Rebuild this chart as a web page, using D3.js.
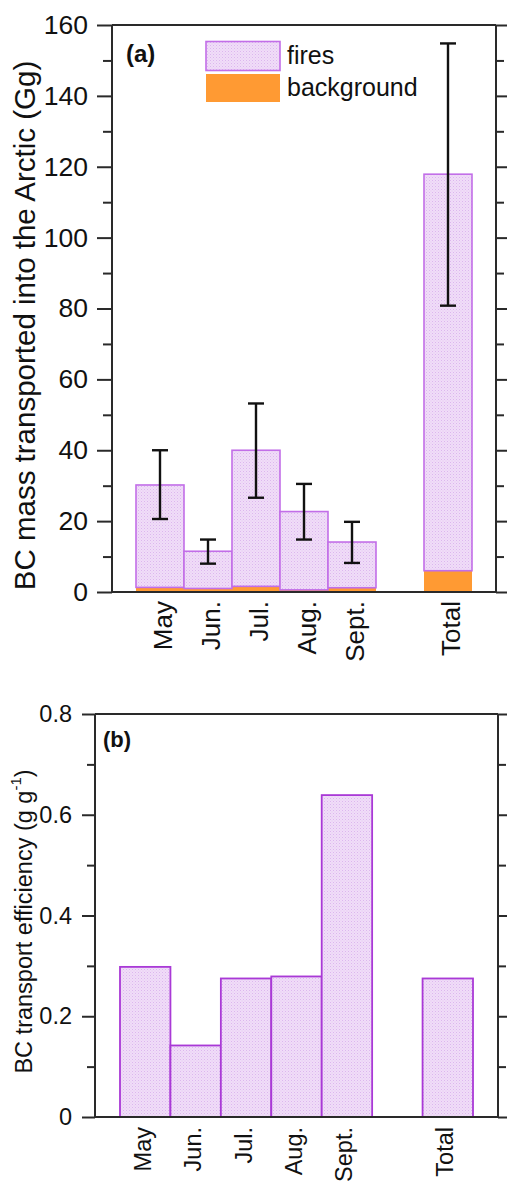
<!DOCTYPE html>
<html>
<head>
<meta charset="utf-8">
<script src="https://cdn.jsdelivr.net/npm/d3@7"></script>
<style>
  html, body { margin: 0; padding: 0; background: #fff; }
  svg { display: block; font-family: "Liberation Sans", Arial, Helvetica, sans-serif; }
</style>
</head>
<body>
<svg id="chart" width="507" height="1181"></svg>
<script>
// ---------- DATA ----------
const categories = ["May", "Jun.", "Jul.", "Aug.", "Sept.", "", "Total"];
const backgroundMass = [1.3, 1.0, 1.6, 0.6, 1.2, 0, 6.0];      // Gg
const firesMass      = [28.9, 10.5, 38.4, 22.1, 12.9, 0, 111.9]; // Gg (stacked on background)
const errLow  = [20.6, 8.0, 26.6, 14.8, 8.2, null, 80.8];
const errHigh = [40.0, 14.8, 53.2, 30.5, 19.8, null, 154.8];
const efficiency = [0.298, 0.142, 0.275, 0.279, 0.639, null, 0.275]; // g g-1
const topTicks = [0, 20, 40, 60, 80, 100, 120, 140, 160];
const topMinorTicks = [10, 30, 50, 70, 90, 110, 130, 150];
const bottomTicks = [0, 0.2, 0.4, 0.6, 0.8];
const bottomTickLabels = ["0", "0.2", "0.4", "0.6", "0.8"];
const bottomMinorTicks = [0.1, 0.3, 0.5, 0.7];
const legendLabels = ["fires", "background"];

// ---------- SETUP ----------
const svg = d3.select("#chart");
const axisColor = "#2a2a2a";
const fireStroke = "#c26ee8";
const fireStroke2 = "#a939d6";
const bgFill = "#ff9a33";

const defs = svg.append("defs");
const pat = defs.append("pattern").attr("id", "dots").attr("patternUnits", "userSpaceOnUse")
  .attr("width", 3).attr("height", 3);
pat.append("rect").attr("width", 3).attr("height", 3).attr("fill", "#f0ddf8");
pat.append("rect").attr("x", 0).attr("y", 0).attr("width", 1).attr("height", 1).attr("fill", "#dcb6ee");
pat.append("rect").attr("x", 1.5).attr("y", 1.5).attr("width", 1).attr("height", 1).attr("fill", "#e6c8f3");

const rows = categories.map((c, i) => ({
  cat: c, key: "k" + i, bg: backgroundMass[i], fire: firesMass[i],
  lo: errLow[i], hi: errHigh[i], eff: efficiency[i]
}));

function styleAxis(g) {
  g.selectAll("path").attr("stroke", axisColor).attr("stroke-width", 2);
  g.selectAll("line").attr("stroke", axisColor).attr("stroke-width", 2);
}

// ---------- PANEL (a) ----------
const A = { left: 112, right: 496, top: 25, bottom: 592 };
const xA = d3.scaleBand().domain(rows.map(d => d.key)).range([136, 472]).padding(0);
const yA = d3.scaleLinear().domain([0, 160]).range([A.bottom, A.top]);

const gA = svg.append("g");
// bars: background
gA.selectAll("rect.bg").data(rows.filter(d => d.bg > 0)).join("rect")
  .attr("x", d => xA(d.key)).attr("width", xA.bandwidth())
  .attr("y", d => yA(d.bg)).attr("height", d => yA(0) - yA(d.bg))
  .attr("fill", bgFill);
// bars: fires stacked
gA.selectAll("rect.fire").data(rows).join("rect")
  .attr("x", d => xA(d.key)).attr("width", xA.bandwidth())
  .attr("y", d => yA(d.bg + d.fire)).attr("height", d => yA(d.bg) - yA(d.bg + d.fire))
  .attr("fill", "url(#dots)").attr("stroke", d => d.fire > 0 ? fireStroke : "#7a4a8e")
  .attr("stroke-width", 1.6);
// error bars
const ebRows = rows.filter(d => d.lo != null);
const cx = d => xA(d.key) + xA.bandwidth() / 2;
gA.selectAll("line.eb").data(ebRows).join("line")
  .attr("x1", cx).attr("x2", cx).attr("y1", d => yA(d.lo)).attr("y2", d => yA(d.hi))
  .attr("stroke", "#111").attr("stroke-width", 2.4);
["lo", "hi"].forEach(k => {
  gA.selectAll("line.cap" + k).data(ebRows).join("line")
    .attr("x1", d => cx(d) - 8).attr("x2", d => cx(d) + 8)
    .attr("y1", d => yA(d[k])).attr("y2", d => yA(d[k]))
    .attr("stroke", "#111").attr("stroke-width", 2.4);
});

// frame & axes
gA.append("line").attr("x1", A.left).attr("x2", A.right).attr("y1", A.top).attr("y2", A.top)
  .attr("stroke", axisColor).attr("stroke-width", 2);
gA.append("line").attr("x1", A.left).attr("x2", A.right).attr("y1", A.bottom).attr("y2", A.bottom)
  .attr("stroke", axisColor).attr("stroke-width", 2);
const axLA = gA.append("g").attr("transform", `translate(${A.left},0)`)
  .call(d3.axisLeft(yA).tickValues(topTicks).tickSize(15).tickPadding(9).tickFormat(d3.format("d")));
const axLAm = gA.append("g").attr("transform", `translate(${A.left},0)`)
  .call(d3.axisLeft(yA).tickValues(topMinorTicks).tickSize(9).tickFormat(""));
const axRA = gA.append("g").attr("transform", `translate(${A.right},0)`)
  .call(d3.axisRight(yA).tickValues(topTicks).tickSize(15).tickFormat(""));
const axRAm = gA.append("g").attr("transform", `translate(${A.right},0)`)
  .call(d3.axisRight(yA).tickValues(topMinorTicks).tickSize(8).tickFormat(""));
[axLA, axLAm, axRA, axRAm].forEach(g => { styleAxis(g); g.select(".domain").attr("d", `M0,${A.top}V${A.bottom}`); });
axLA.selectAll("text").attr("font-size", 26.5).attr("fill", "#111")
  .attr("font-family", "'Liberation Sans', Arial, sans-serif");

// x labels
const axBA = gA.append("g").attr("transform", `translate(0,${A.bottom})`)
  .call(d3.axisBottom(xA).tickSize(0).tickFormat((k, i) => categories[i]));
axBA.select(".domain").remove();
axBA.selectAll("text").attr("font-size", 26).attr("fill", "#111")
  .attr("text-anchor", "end").attr("dominant-baseline", "central")
  .attr("transform", "rotate(-90)").attr("x", -9).attr("y", 0).attr("dy", "2.5");

// y label
gA.append("text").attr("transform", `translate(24,${(A.top + A.bottom) / 2 + 17}) rotate(-90)`)
  .attr("text-anchor", "middle").attr("dominant-baseline", "central")
  .attr("font-size", 29.5).attr("fill", "#111").text("BC mass transported into the Arctic (Gg)");
// panel tag
gA.append("text").attr("x", 126).attr("y", 62).attr("font-size", 24).attr("font-weight", "bold")
  .attr("fill", "#111").text("(a)");
// legend
const legY = [41.5, 74];
gA.append("rect").attr("x", 206).attr("y", legY[0]).attr("width", 74).attr("height", 29)
  .attr("fill", "url(#dots)").attr("stroke", fireStroke).attr("stroke-width", 1.6);
gA.append("rect").attr("x", 206).attr("y", legY[1]).attr("width", 74).attr("height", 28)
  .attr("fill", bgFill);
legendLabels.forEach((t, i) => {
  gA.append("text").attr("x", 287).attr("y", legY[i] + 22).attr("font-size", 25).attr("fill", "#111").text(t);
});

// ---------- PANEL (b) ----------
const B = { left: 95, right: 498, top: 714, bottom: 1117 };
const xB = d3.scaleBand().domain(rows.map(d => d.key)).range([120, 473]).padding(0);
const yB = d3.scaleLinear().domain([0, 0.8]).range([B.bottom, B.top]);
const gB = svg.append("g");

gB.selectAll("rect.eff").data(rows.filter(d => d.eff != null)).join("rect")
  .attr("x", d => xB(d.key)).attr("width", xB.bandwidth())
  .attr("y", d => yB(d.eff)).attr("height", d => yB(0) - yB(d.eff))
  .attr("fill", "url(#dots)").attr("stroke", fireStroke2).attr("stroke-width", 1.8);

gB.append("line").attr("x1", B.left).attr("x2", B.right).attr("y1", B.top).attr("y2", B.top)
  .attr("stroke", axisColor).attr("stroke-width", 2);
gB.append("line").attr("x1", B.left).attr("x2", B.right).attr("y1", B.bottom).attr("y2", B.bottom)
  .attr("stroke", axisColor).attr("stroke-width", 2);
const axLB = gB.append("g").attr("transform", `translate(${B.left},0)`)
  .call(d3.axisLeft(yB).tickValues(bottomTicks).tickSize(13).tickPadding(10)
    .tickFormat((d, i) => bottomTickLabels[i]));
const axLBm = gB.append("g").attr("transform", `translate(${B.left},0)`)
  .call(d3.axisLeft(yB).tickValues(bottomMinorTicks).tickSize(8).tickFormat(""));
const axRB = gB.append("g").attr("transform", `translate(${B.right},0)`)
  .call(d3.axisRight(yB).tickValues(bottomTicks).tickSize(13).tickFormat(""));
const axRBm = gB.append("g").attr("transform", `translate(${B.right},0)`)
  .call(d3.axisRight(yB).tickValues(bottomMinorTicks).tickSize(8).tickFormat(""));
[axLB, axLBm, axRB, axRBm].forEach(g => { styleAxis(g); g.select(".domain").attr("d", `M0,${B.top}V${B.bottom}`); });
axLB.selectAll("text").attr("font-size", 23.5).attr("fill", "#111");

const axBB = gB.append("g").attr("transform", `translate(0,${B.bottom})`)
  .call(d3.axisBottom(xB).tickSize(0).tickFormat((k, i) => categories[i]));
axBB.select(".domain").remove();
axBB.selectAll("text").attr("font-size", 23.5).attr("fill", "#111")
  .attr("text-anchor", "end").attr("dominant-baseline", "central")
  .attr("transform", "rotate(-90)").attr("x", -10).attr("y", 0).attr("dy", "-2.5");

const yl = gB.append("text").attr("transform", `translate(24,${(B.top + B.bottom) / 2 + 6}) rotate(-90)`)
  .attr("text-anchor", "middle").attr("dominant-baseline", "central")
  .attr("font-size", 23.5).attr("fill", "#111");
yl.append("tspan").text("BC transport efficiency (g g");
yl.append("tspan").attr("baseline-shift", "super").attr("font-size", 15).text("-1");
yl.append("tspan").text(")");

gB.append("text").attr("x", 103).attr("y", 747).attr("font-size", 22).attr("font-weight", "bold")
  .attr("fill", "#111").text("(b)");
</script>
</body>
</html>
